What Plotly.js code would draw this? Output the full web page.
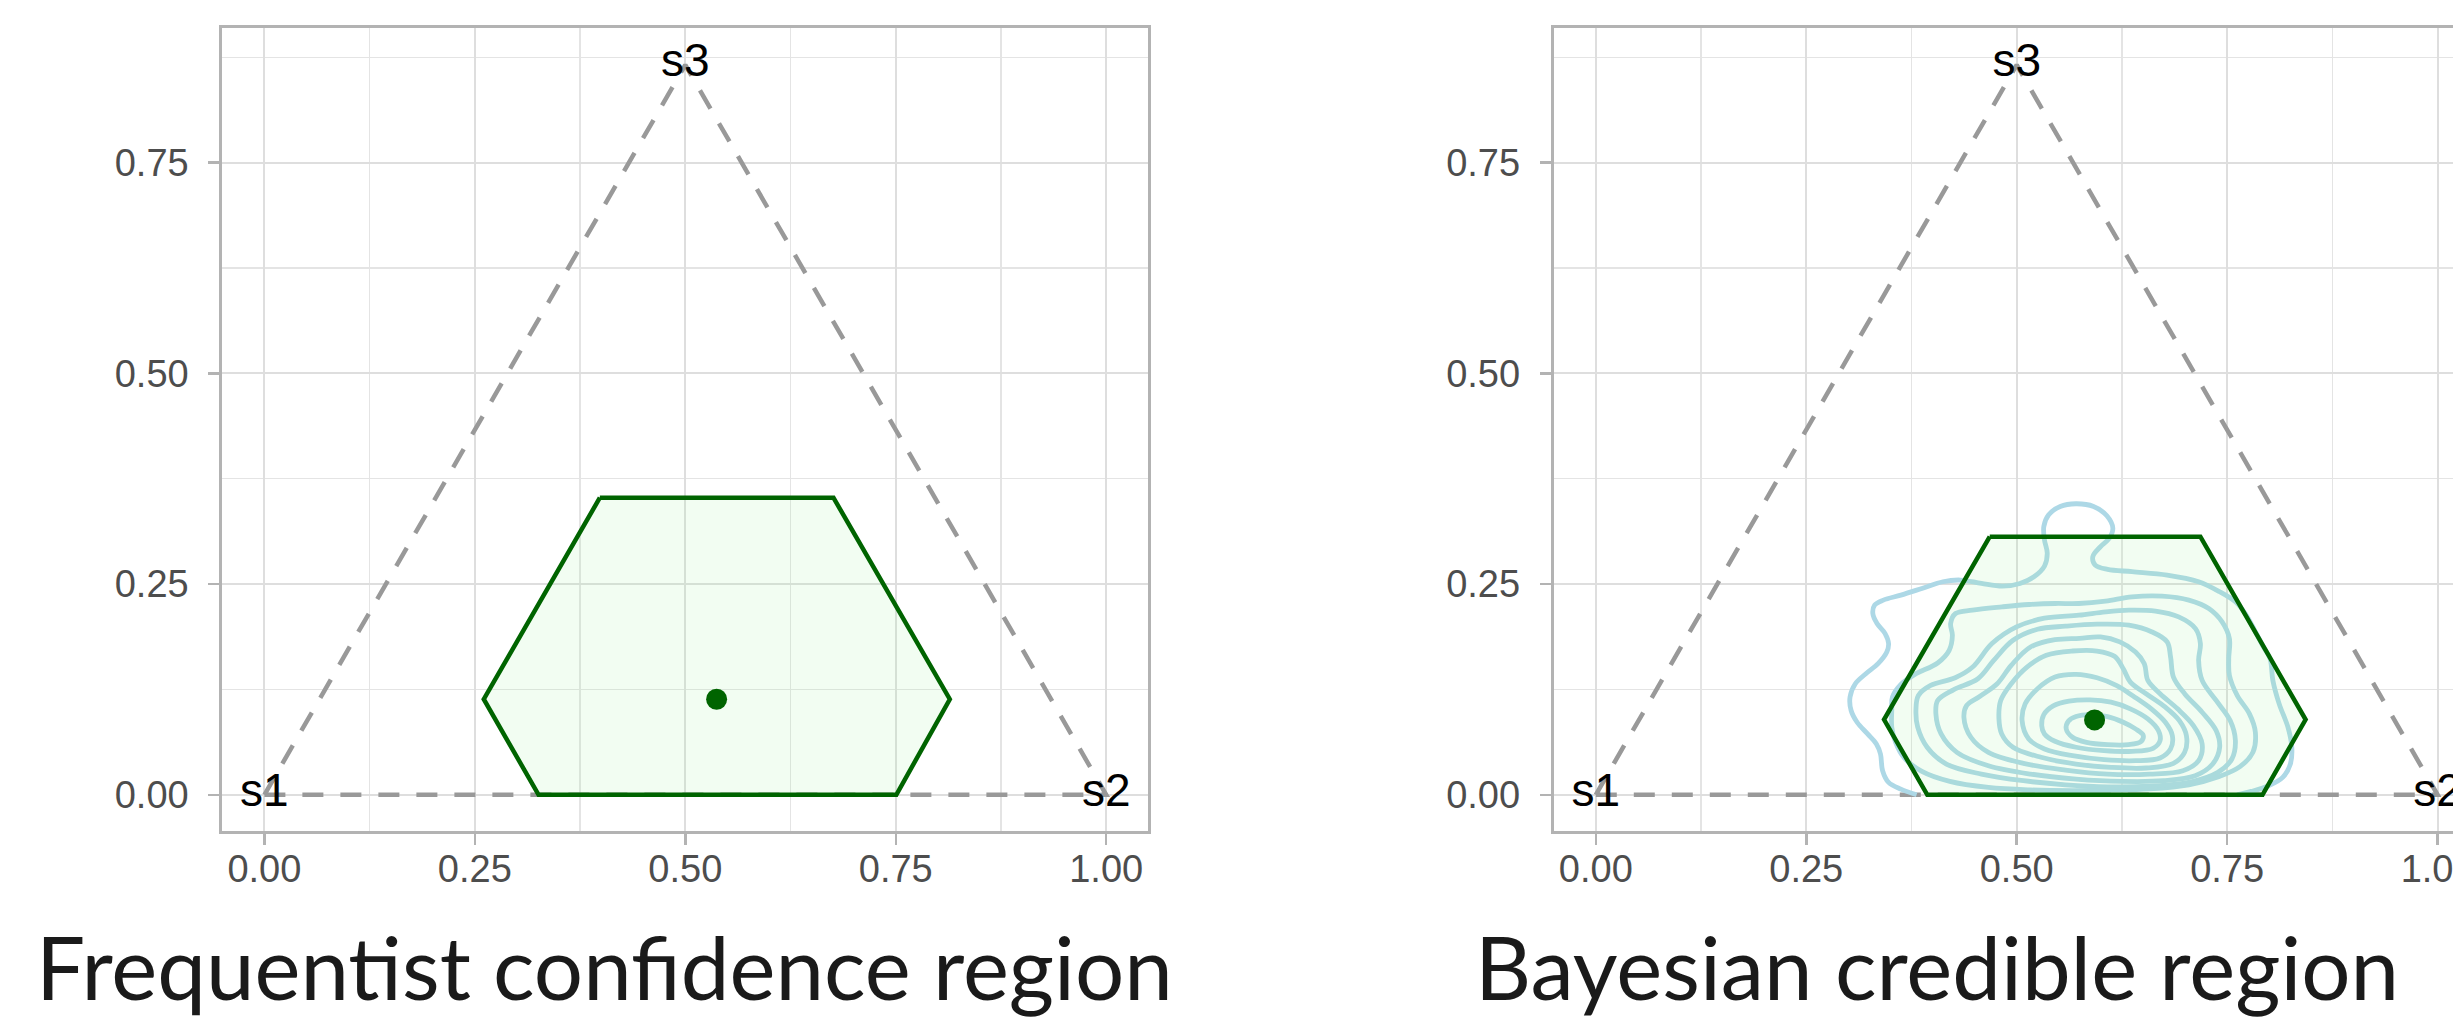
<!DOCTYPE html>
<html>
<head>
<meta charset="utf-8">
<script src="https://cdn.plot.ly/plotly-3.0.1.min.js"></script>
<style>
html,body{margin:0;padding:0;background:#fff;overflow:hidden;}
#wrap{width:2453px;height:1017px;overflow:hidden;position:relative;}
#plot{width:2500px;height:1017px;}
</style>
</head>
<body>
<div id="wrap"><div id="plot"></div></div>
<script>
// ---- data ----
const vertexLabels = ['s1', 's2', 's3'];
const vertexX = [0, 1, 0.5];
const vertexY = [0, 0, 0.866];

const panelTitles = ['Frequentist confidence region', 'Bayesian credible region'];
const tickVals = [0, 0.25, 0.5, 0.75, 1];
const tickText = ['0.00', '0.25', '0.50', '0.75', '1.00'];

const freqHexX = [0.3985, 0.6760, 0.8142, 0.7507, 0.3257, 0.2606, 0.3985];
const freqHexY = [0.3525, 0.3525, 0.1134, 0, 0, 0.1134, 0.3525];
const freqPointX = [0.5372];
const freqPointY = [0.1134];

const bayesHexX = [0.4680, 0.7182, 0.8432, 0.7920, 0.3938, 0.3424, 0.4680];
const bayesHexY = [0.3063, 0.3063, 0.0893, 0, 0, 0.0893, 0.3063];
const bayesPointX = [0.5925];
const bayesPointY = [0.0889];

// posterior density contour lines (outermost A ... innermost I)
const contourA_x = [0.3811,0.3624,0.3478,0.3407,0.3382,0.3333,0.3229,0.3104,0.3033,0.3020,0.3083,0.3208,0.3353,0.3457,0.3478,0.3437,0.3341,0.3291,0.3312,0.3416,0.3624,0.3874,0.4123,0.4331,0.4581,0.4831,0.5039,0.5205,0.5330,0.5363,0.5330,0.5322,0.5380,0.5517,0.5705,0.5913,0.6071,0.6142,0.6100,0.5996,0.5904,0.5933,0.6079,0.6370,0.6787,0.7161,0.7411,0.7598,0.7715,0.7827,0.7931,0.8010,0.8043,0.8118,0.8222,0.8268,0.8251,0.8160,0.7993,0.7785,0.7619];
const contourA_y = [0,0.0067,0.0147,0.0286,0.0484,0.0603,0.0722,0.0861,0.1000,0.1159,0.1318,0.1437,0.1556,0.1694,0.1794,0.1913,0.2032,0.2151,0.2250,0.2310,0.2369,0.2448,0.2528,0.2548,0.2508,0.2476,0.2508,0.2587,0.2714,0.2865,0.3024,0.3183,0.3322,0.3421,0.3453,0.3421,0.3310,0.3163,0.3044,0.2945,0.2825,0.2726,0.2675,0.2647,0.2607,0.2528,0.2409,0.2290,0.2151,0.1952,0.1754,0.1615,0.1357,0.1079,0.0802,0.0564,0.0365,0.0206,0.0107,0.0040,0];

const contourB_x = [0.3516,0.3524,0.3624,0.3790,0.4061,0.4198,0.4236,0.4215,0.4273,0.4473,0.4826,0.5147,0.5459,0.5738,0.6055,0.6370,0.6728,0.7045,0.7282,0.7440,0.7527,0.7519,0.7527,0.7619,0.7765,0.7835,0.7806,0.7652,0.7398,0.7045,0.6579,0.6121,0.5663,0.5164,0.4664,0.4206,0.3874,0.3665,0.3561,0.3516,0.3516];
const contourB_y = [0.1000,0.1159,0.1309,0.1429,0.1564,0.1714,0.1893,0.2032,0.2151,0.2191,0.2230,0.2258,0.2270,0.2270,0.2298,0.2349,0.2357,0.2310,0.2210,0.2052,0.1853,0.1615,0.1417,0.1179,0.0960,0.0742,0.0504,0.0334,0.0214,0.0119,0.0070,0.0055,0.0050,0.0058,0.0087,0.0159,0.0278,0.0437,0.0623,0.0802,0.1000];

const contourC_x = [0.3803,0.3832,0.3978,0.4269,0.4477,0.4706,0.4997,0.5330,0.5738,0.6055,0.6333,0.6649,0.6924,0.7124,0.7182,0.7161,0.7203,0.7369,0.7536,0.7598,0.7556,0.7390,0.7078,0.6579,0.6079,0.5580,0.5080,0.4581,0.4165,0.3936,0.3824,0.3803];
const contourC_y = [0.1000,0.1179,0.1298,0.1389,0.1516,0.1794,0.1992,0.2095,0.2131,0.2171,0.2191,0.2179,0.2111,0.1972,0.1794,0.1595,0.1357,0.1119,0.0881,0.0643,0.0425,0.0266,0.0155,0.0103,0.0095,0.0119,0.0167,0.0246,0.0365,0.0564,0.0802,0.1000];

const contourD_x = [0.4040,0.4061,0.4248,0.4539,0.4727,0.4956,0.5247,0.5580,0.5954,0.6333,0.6608,0.6787,0.6828,0.6862,0.6995,0.7203,0.7369,0.7411,0.7328,0.7120,0.6745,0.6246,0.5705,0.5164,0.4664,0.4290,0.4102,0.4040];
const contourD_y = [0.0960,0.1119,0.1246,0.1377,0.1595,0.1833,0.1964,0.2000,0.2024,0.2012,0.1932,0.1814,0.1635,0.1397,0.1199,0.0980,0.0762,0.0564,0.0365,0.0226,0.0167,0.0159,0.0187,0.0246,0.0345,0.0504,0.0722,0.0960];

const contourE_x = [0.4373,0.4406,0.4560,0.4768,0.4935,0.5164,0.5455,0.5746,0.5996,0.6225,0.6412,0.6516,0.6558,0.6703,0.6911,0.7099,0.7203,0.7161,0.6974,0.6579,0.6079,0.5580,0.5080,0.4664,0.4456,0.4373];
const contourE_y = [0.0920,0.1060,0.1167,0.1318,0.1536,0.1754,0.1841,0.1857,0.1873,0.1814,0.1694,0.1556,0.1357,0.1199,0.1020,0.0822,0.0603,0.0405,0.0286,0.0246,0.0246,0.0294,0.0373,0.0504,0.0683,0.0920];

const contourF_x = [0.4789,0.4810,0.4935,0.5122,0.5351,0.5663,0.5954,0.6162,0.6266,0.6350,0.6537,0.6766,0.6932,0.7016,0.6995,0.6862,0.6537,0.6121,0.5705,0.5289,0.4956,0.4822,0.4789];
const contourF_y = [0.0901,0.1119,0.1318,0.1516,0.1655,0.1706,0.1706,0.1643,0.1496,0.1337,0.1199,0.1040,0.0881,0.0703,0.0504,0.0373,0.0318,0.0325,0.0365,0.0445,0.0564,0.0722,0.0901];

const contourG_x = [0.5064,0.5101,0.5247,0.5455,0.5705,0.5954,0.6183,0.6391,0.6599,0.6766,0.6849,0.6828,0.6703,0.6412,0.6038,0.5663,0.5330,0.5143,0.5064];
const contourG_y = [0.0881,0.1079,0.1258,0.1397,0.1429,0.1389,0.1298,0.1167,0.1020,0.0861,0.0703,0.0544,0.0437,0.0405,0.0417,0.0464,0.0544,0.0663,0.0881];

const contourH_x = [0.5297,0.5322,0.5434,0.5621,0.5871,0.6121,0.6350,0.6558,0.6683,0.6703,0.6620,0.6370,0.6038,0.5705,0.5455,0.5330,0.5297];
const contourH_y = [0.0822,0.0952,0.1055,0.1111,0.1127,0.1099,0.1020,0.0901,0.0762,0.0643,0.0552,0.0516,0.0524,0.0564,0.0635,0.0722,0.0822];

const contourI_x = [0.5588,0.5613,0.5705,0.5871,0.6079,0.6266,0.6412,0.6504,0.6475,0.6329,0.6079,0.5829,0.5663,0.5588];
const contourI_y = [0.0782,0.0873,0.0928,0.0952,0.0928,0.0861,0.0782,0.0703,0.0631,0.0595,0.0595,0.0623,0.0683,0.0782];

const contoursX = [contourA_x, contourB_x, contourC_x, contourD_x, contourE_x, contourF_x, contourG_x, contourH_x, contourI_x];
const contoursY = [contourA_y, contourB_y, contourC_y, contourD_y, contourE_y, contourF_y, contourG_y, contourH_y, contourI_y];

// ---- styling ----
const W = 2500, H = 1017;
const TICKFONT = {family: 'Liberation Sans, Arial, sans-serif', size: 38, color: '#4D4D4D'};
const triX = [vertexX[0], vertexX[1], vertexX[2], vertexX[0]];
const triY = [vertexY[0], vertexY[1], vertexY[2], vertexY[0]];

function panelTraces(xa, ya, hexX, hexY, px, py, withContours) {
  const t = [];
  t.push({x: triX, y: triY, xaxis: xa, yaxis: ya, mode: 'lines', hoverinfo: 'skip',
          line: {color: '#999999', width: 4.5, dash: '21px,17px'}});
  if (withContours) {
    for (let i = 0; i < contoursX.length; i++) {
      t.push({x: contoursX[i], y: contoursY[i], xaxis: xa, yaxis: ya, mode: 'lines', hoverinfo: 'skip',
              line: {color: '#ADD8E6', width: 4.8, shape: 'spline', smoothing: 1}});
    }
  }
  t.push({x: hexX, y: hexY, xaxis: xa, yaxis: ya, mode: 'lines', fill: 'toself',
          fillcolor: 'rgba(144,238,144,0.12)', line: {color: '#006400', width: 4.5}, hoverinfo: 'skip'});
  t.push({x: px, y: py, xaxis: xa, yaxis: ya, mode: 'markers', hoverinfo: 'skip',
          marker: {color: '#006400', size: 21}});
  t.push({x: vertexX, y: vertexY, text: vertexLabels, xaxis: xa, yaxis: ya, mode: 'text',
          textposition: 'middle center', hoverinfo: 'skip',
          textfont: {family: 'Liberation Sans, Arial, sans-serif', size: 46, color: '#000000'}});
  return t;
}

const traces = [].concat(
  panelTraces('x', 'y', freqHexX, freqHexY, freqPointX, freqPointY, false),
  panelTraces('x2', 'y2', bayesHexX, bayesHexY, bayesPointX, bayesPointY, true)
);

function xAxis(domain, anchor) {
  return {domain: domain, anchor: anchor, range: [-0.05, 1.05], tickvals: tickVals, ticktext: tickText,
    showgrid: true, gridcolor: '#DEDEDE', gridwidth: 2.2, zeroline: false,
    minor: {dtick: 0.125, tick0: 0, showgrid: true, gridcolor: '#E4E4E4', gridwidth: 1.3, ticks: ''},
    showline: true, mirror: true, linecolor: '#B3B3B3', linewidth: 3,
    ticks: 'outside', ticklen: 11, tickwidth: 2.5, tickcolor: '#B3B3B3',
    tickfont: TICKFONT, ticklabelstandoff: -9, fixedrange: true};
}
function yAxis(anchor) {
  return {domain: [185.7 / H, 988.6 / H], anchor: anchor, range: [-0.0433, 0.9093],
    tickvals: [0, 0.25, 0.5, 0.75], ticktext: ['0.00', '0.25', '0.50', '0.75'],
    showgrid: true, gridcolor: '#DEDEDE', gridwidth: 2.2, zeroline: false,
    minor: {dtick: 0.125, tick0: 0, showgrid: true, gridcolor: '#E4E4E4', gridwidth: 1.3, ticks: ''},
    showline: true, mirror: true, linecolor: '#B3B3B3', linewidth: 3,
    ticks: 'outside', ticklen: 11, tickwidth: 2.5, tickcolor: '#B3B3B3',
    tickfont: TICKFONT, ticklabelstandoff: 12, fixedrange: true};
}

const TITLEFONT = {family: 'Lato, Liberation Sans, sans-serif', size: 87, color: '#1A1A1A', weight: 400};

const layout = {
  width: W, height: H,
  margin: {l: 0, r: 0, t: 0, b: 0},
  paper_bgcolor: '#FFFFFF', plot_bgcolor: '#FFFFFF',
  showlegend: false,
  xaxis: xAxis([222.3 / W, 1148.3 / W], 'y'),
  yaxis: yAxis('x'),
  xaxis2: xAxis([1553.7 / W, 2479.7 / W], 'y2'),
  yaxis2: yAxis('x2'),
  annotations: [
    {text: panelTitles[0], xref: 'paper', yref: 'paper', x: 604.7 / W, y: 0.050, xanchor: 'center', yanchor: 'middle',
     showarrow: false, font: TITLEFONT},
    {text: panelTitles[1], xref: 'paper', yref: 'paper', x: 1937 / W, y: 0.050, xanchor: 'center', yanchor: 'middle',
     showarrow: false, font: TITLEFONT}
  ]
};

Plotly.newPlot('plot', traces, layout, {displayModeBar: false, staticPlot: true});
</script>
</body>
</html>
